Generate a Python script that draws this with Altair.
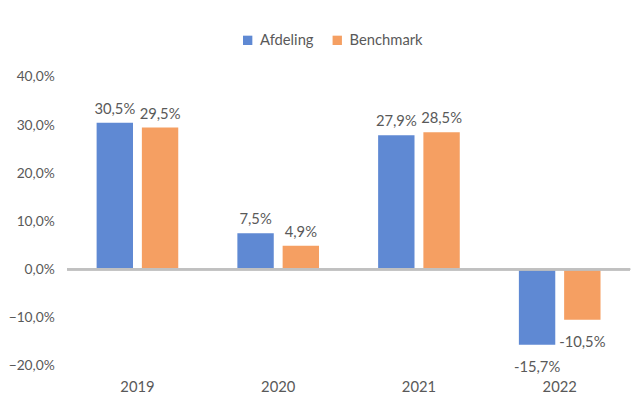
import altair as alt
import pandas as pd

years = ["2019", "2020", "2021", "2022"]
afdeling = [30.5, 7.5, 27.9, -15.7]
benchmark = [29.5, 4.9, 28.5, -10.5]
series = ["Afdeling", "Benchmark"]
colors = ["#5f89d3", "#f59f62"]

rows = []
for i, y in enumerate(years):
    for s, vals in zip(series, [afdeling, benchmark]):
        v = vals[i]
        rows.append({"year": y, "series": s, "value": v,
                     "label": f"{v:.1f}%".replace(".", ",")})
df = pd.DataFrame(rows)

FONT = "Lato"
GREY = "#595959"
FS = 15

x = alt.X("year:N", title=None,
          scale=alt.Scale(paddingInner=0.42, paddingOuter=0.21),
          axis=alt.Axis(orient="bottom", domain=False, ticks=False, labelAngle=0,
                        labelPadding=15, labelFontSize=FS, labelColor=GREY, labelFont=FONT))
xo = alt.XOffset("series:N", scale=alt.Scale(paddingInner=0.196, paddingOuter=0))
y = alt.Y("value:Q", title=None,
          scale=alt.Scale(domain=[-20, 40], nice=False, zero=False),
          axis=alt.Axis(values=[-20, -10, 0, 10, 20, 30, 40], grid=False, domain=False, ticks=False,
                        labelExpr="replace(format(datum.value, '.1f'), '.', ',') + '%'",
                        labelPadding=13, labelFontSize=14, labelColor=GREY, labelFont=FONT))

base = alt.Chart(df)

bars = base.mark_bar().encode(
    x=x, xOffset=xo, y=y, y2=alt.datum(0),
    color=alt.Color("series:N", scale=alt.Scale(domain=series, range=colors),
                    legend=alt.Legend(title=None, orient="none", direction="horizontal",
                                      legendX=176, legendY=-45, symbolType="square",
                                      symbolSize=90, symbolStrokeWidth=0,
                                      labelFontSize=FS, labelColor=GREY, labelFont=FONT,
                                      columnPadding=16, labelOffset=5))
)

pos = base.transform_filter("datum.value >= 0").mark_text(
    baseline="bottom", dy=-6, fontSize=FS, color=GREY, font=FONT
).encode(x=x, xOffset=xo, y=y, text="label:N")

neg = base.transform_filter("datum.value < 0").mark_text(
    baseline="top", dy=16, fontSize=FS, color=GREY, font=FONT
).encode(x=x, xOffset=xo, y=y, text="label:N")

zero = base.mark_rule(color="#c0c0c0", strokeWidth=2).encode(
    y=alt.datum(0)
)

chart = alt.layer(bars, zero, pos, neg).properties(
    width=572, height=293,
    autosize=alt.AutoSizeParams(type="none"),
    padding={"left": 60, "top": 67, "right": 5, "bottom": 30},
    view=alt.ViewBackground(stroke="transparent", strokeWidth=0),
).configure_view(stroke="transparent", strokeWidth=0).configure(background="white")

chart.save("out.html", embed_options={"renderer": "svg", "actions": False})
